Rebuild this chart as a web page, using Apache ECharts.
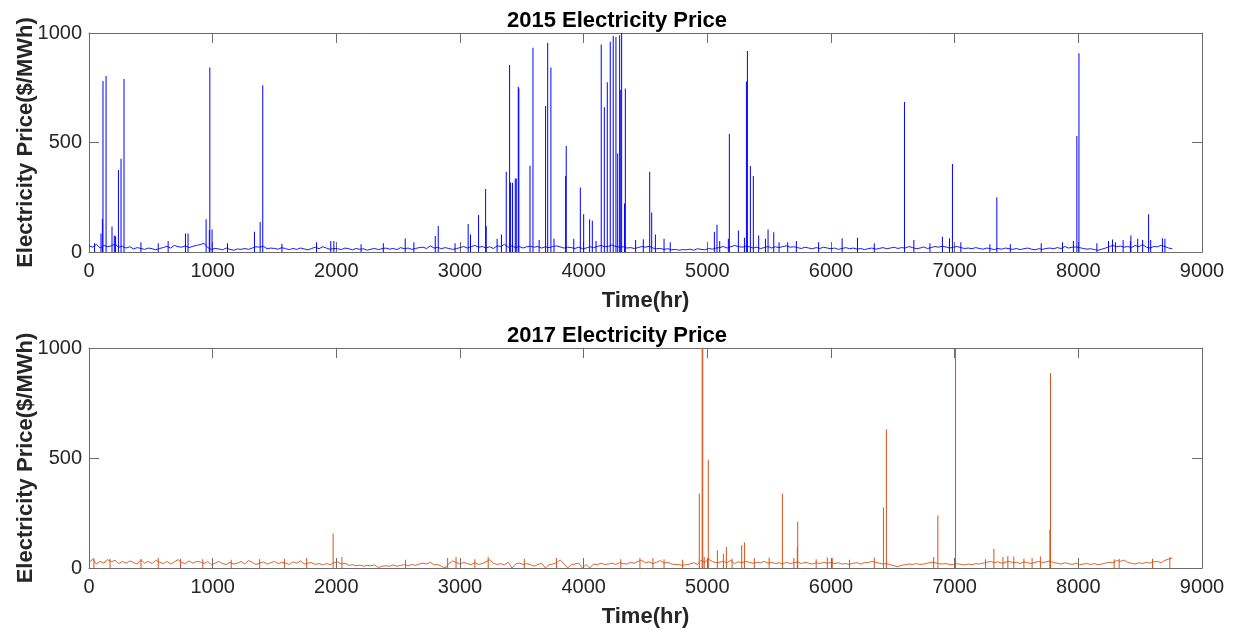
<!DOCTYPE html>
<html>
<head>
<meta charset="utf-8">
<script src="https://cdn.jsdelivr.net/npm/echarts@6/dist/echarts.min.js"></script>
<style>
html,body{margin:0;padding:0;background:#fff;}
#chart{width:1234px;height:631px;}
</style>
</head>
<body>
<div id="chart"></div>
<script>
// ---------- DATA ----------
const titles = ['2015 Electricity Price', '2017 Electricity Price'];
const xTicks = [0, 1000, 2000, 3000, 4000, 5000, 6000, 7000, 8000, 9000];
const yTicks = [0, 500, 1000];
const baseStepHours = 30; // baseline samples are read every 30 hours

// 2015 baseline (every 30 h, from hour 0 to 8760)
const base2015 = [
  28,22,35,18,30,24,28,36,22,26,
  18,24,14,20,16,12,18,15,10,16,
  20,26,18,30,24,22,28,20,26,30,
  34,40,20,12,16,14,10,18,12,8,
  14,12,16,12,18,24,22,26,15,18,
  16,13,20,15,11,16,12,18,14,10,
  16,22,15,24,18,12,16,15,11,18,
  15,10,16,12,15,8,13,16,11,15,
  18,13,16,11,20,15,18,12,16,20,
  22,16,28,18,21,15,20,16,12,15,
  20,25,18,24,30,22,25,18,24,16,
  28,25,35,22,28,20,25,18,24,26,
  22,25,18,24,20,25,28,23,18,22,
  20,16,22,15,18,24,20,25,30,24,
  26,32,25,22,24,18,20,16,20,25,
  22,26,18,15,16,12,15,10,12,8,
  11,10,13,8,15,12,10,16,13,18,
  20,25,18,24,30,25,22,26,24,18,
  22,16,20,25,18,24,20,25,28,22,
  24,20,16,22,18,15,20,16,22,18,
  15,18,12,16,20,15,18,13,16,11,
  15,18,13,16,20,15,18,22,16,20,
  18,25,20,15,18,23,16,20,25,22,
  26,23,18,22,25,20,16,18,15,20,
  16,13,18,15,11,16,13,18,15,12,
  16,11,15,18,13,10,15,12,16,18,
  15,20,16,25,18,22,23,20,16,13,
  15,11,8,13,18,25,30,24,27,22,
  25,20,30,24,34,22,18,25,24,30,
  25,18,15
];
// 2015 price spikes
const spikeHours2015 = [97,108,113,138,186,205,215,238,259,283,780,801,947,973,977,995,
  1338,1384,1405,1955,2557,2627,2800,2824,3066,3085,3150,3207,3212,3335,
  3374,3401,3409,3425,3447,3455,3471,3476,3566,3590,3692,3709,3735,
  3854,3859,3973,4000,4048,4070,4142,4167,4191,4215,4239,4261,4275,4291,4296,4307,4330,4337,
  4482,4534,4550,4580,5057,5078,5170,5178,5251,5300,5316,5324,5348,5372,5415,5491,5537,5650,
  6090,6214,6594,6670,6901,6958,6982,7285,7341,7872,7988,8005,8244,8276,8362,8421,8425,8568,8585,8680,8700];
const spikeValues2015 = [85,151,781,804,116,75,72,374,426,790,84,84,149,100,843,103,
  93,137,761,50,62,45,73,119,128,80,169,288,118,80,
  367,854,317,316,336,336,755,748,394,933,667,956,843,
  347,484,295,172,149,143,948,661,775,960,986,982,450,990,740,1050,222,747,
  58,367,180,80,91,125,60,539,98,65,778,918,393,347,75,103,90,45,
  63,65,685,55,70,63,402,35,250,45,530,907,50,57,55,50,75,172,55,63,60];
// 2015 minor bumps above the baseline
const minorHours2015 = [45,420,560,640,1120,1560,1840,1980,2200,2380,2960,3300,3640,3760,3920,4100,
  4420,4650,4700,5100,5470,5580,5720,5900,6350,6800,7050,7450,7700,7960,8150,8300,8480,8520];
const minorValues2015 = [40,45,40,50,40,38,45,50,35,40,40,60,55,60,60,50,
  55,60,45,50,60,45,50,45,40,40,45,35,40,50,40,45,60,55];

// 2017 baseline (every 30 h, from hour 0 to 8760)
const base2017 = [
  25,40,18,30,22,38,28,35,20,30,
  22,32,25,18,38,22,30,20,35,26,
  20,30,18,28,38,25,20,32,22,30,
  28,20,30,15,22,30,20,16,26,18,
  22,30,18,34,26,16,22,28,18,24,
  30,20,26,22,16,28,22,32,18,22,
  25,16,20,14,20,15,24,28,18,22,
  12,15,10,13,8,12,10,14,2,8,
  10,8,14,8,12,15,10,16,12,18,
  22,18,26,14,16,8,0,20,32,25,
  18,26,20,15,24,16,20,28,38,22,
  16,20,14,26,0,18,22,16,20,15,
  8,16,22,0,15,18,24,36,20,0,
  15,18,22,0,16,0,18,15,22,16,
  18,22,16,24,20,18,26,22,30,35,
  24,28,20,26,34,22,26,18,16,15,
  12,15,18,24,16,35,26,40,30,24,
  26,30,24,35,20,28,24,30,26,22,
  25,24,30,22,26,20,24,18,26,20,
  24,28,20,26,22,18,24,20,26,22,
  25,20,24,18,20,16,22,24,18,25,
  24,30,26,22,18,20,15,10,6,12,
  15,18,16,20,16,18,22,26,24,20,
  18,20,15,16,20,16,14,18,15,20,
  18,22,26,30,24,28,22,26,30,24,
  26,20,28,24,20,26,30,24,28,32,
  24,22,18,24,20,16,22,15,18,20,
  16,20,15,18,22,26,24,34,30,36,
  25,22,18,24,20,26,22,28,30,24,
  35,40,45
];
// 2017 price spikes
const spikeHours2017 = [1974,2045,2900,2968,3228,3780,4455,4650,4935,4958,4963,4975,5008,5081,5130,5154,
  5278,5300,5380,5500,5607,5700,5728,5731,5970,6010,6350,6424,6448,6830,6864,7007,
  7317,7390,7430,7478,7626,7693,7770,7775,8290,8330];
const spikeValues2017 = [157,50,45,50,50,45,45,40,339,1400,1300,50,491,81,65,96,
  103,117,45,48,339,45,95,210,48,45,48,275,631,50,239,2000,
  88,50,55,52,45,52,176,886,40,42];
// 2017 minor bumps above the baseline
const minorHours2017 = [40,170,420,560,740,920,1150,1380,1580,1760,2560,3120,3520,4300,4560,4800,5200,5880,6150,7250,7560,8600,8740];
const minorValues2017 = [45,42,40,45,42,40,38,40,42,45,38,40,42,40,45,38,42,40,38,40,42,42,50];

// ---------- CHART ----------
const FONT = 'Liberation Sans, Arial, Helvetica, sans-serif';
const AXIS_COLOR = '#6b6b6b';
const TEXT_COLOR = '#262626';
const grids = [
  {left: 89, top: 33, width: 1113, height: 219, outerBoundsMode: 'none', containLabel: false},
  {left: 89, top: 348, width: 1113, height: 220, outerBoundsMode: 'none', containLabel: false}
];
const colors = ['#0000FF', '#D95319'];
const bases = [base2015, base2017];
const spikeH = [spikeHours2015, spikeHours2017];
const spikeV = [spikeValues2015, spikeValues2017];
const minorH = [minorHours2015, minorHours2017];
const minorV = [minorValues2015, minorValues2017];

const xAxes = [], yAxes = [], series = [], titleOpts = [];
grids.forEach((g, gi) => {
  titleOpts.push({
    text: titles[gi], left: 'center', top: gi === 0 ? 5 : 320,
    textStyle: {fontFamily: FONT, fontSize: 22, fontWeight: 'bold', color: '#000'}
  });
  const commonX = {
    type: 'value', gridIndex: gi, min: xTicks[0], max: xTicks[xTicks.length - 1], interval: 1000,
    splitLine: {show: false},
    axisLine: {show: true, onZero: false, lineStyle: {color: AXIS_COLOR, width: 1}},
    axisTick: {show: true, inside: true, length: 10, lineStyle: {color: AXIS_COLOR}}
  };
  xAxes.push(Object.assign({}, commonX, {
    position: 'bottom',
    name: 'Time(hr)', nameLocation: 'middle', nameGap: 38, nameMoveOverlap: false,
    nameTextStyle: {fontFamily: FONT, fontSize: 22, fontWeight: 'bold', color: TEXT_COLOR},
    axisLabel: {show: true, margin: 9, fontFamily: FONT, fontSize: 20, color: TEXT_COLOR,
      formatter: v => xTicks.includes(v) ? String(v) : ''}
  }));
  xAxes.push(Object.assign({}, commonX, {position: 'top', axisLabel: {show: false}}));
  const commonY = {
    type: 'value', gridIndex: gi, min: yTicks[0], max: yTicks[yTicks.length - 1], interval: 500,
    splitLine: {show: false},
    axisLine: {show: true, onZero: false, lineStyle: {color: AXIS_COLOR, width: 1}},
    axisTick: {show: true, inside: true, length: 10, lineStyle: {color: AXIS_COLOR}}
  };
  yAxes.push(Object.assign({}, commonY, {
    position: 'left',
    name: 'Electricity Price($/MWh)', nameLocation: 'middle', nameGap: 52, nameRotate: 90,
    nameMoveOverlap: false,
    nameTextStyle: {fontFamily: FONT, fontSize: 22, fontWeight: 'bold', color: TEXT_COLOR},
    axisLabel: {show: true, margin: 7, fontFamily: FONT, fontSize: 20, color: TEXT_COLOR,
      formatter: v => yTicks.includes(v) ? String(v) : ''}
  }));
  yAxes.push(Object.assign({}, commonY, {position: 'right', axisLabel: {show: false}}));

  const spikeData = spikeH[gi].map((h, i) => [h, spikeV[gi][i]])
    .concat(minorH[gi].map((h, i) => [h, minorV[gi][i]]));
  series.push({
    type: 'bar', xAxisIndex: gi * 2, yAxisIndex: gi * 2,
    data: spikeData,
    barWidth: 1, clip: true, silent: true,
    itemStyle: {color: colors[gi]}
  });
  series.push({
    type: 'line', xAxisIndex: gi * 2, yAxisIndex: gi * 2,
    data: bases[gi].map((v, i) => [i * baseStepHours, v]),
    showSymbol: false, symbol: 'none', clip: true, silent: true,
    lineStyle: {color: colors[gi], width: 0.9}
  });
});

const chart = echarts.init(document.getElementById('chart'), null, {renderer: 'canvas'});
chart.setOption({
  animation: false,
  backgroundColor: '#ffffff',
  title: titleOpts,
  grid: grids,
  xAxis: xAxes,
  yAxis: yAxes,
  series: series
});
</script>
</body>
</html>
